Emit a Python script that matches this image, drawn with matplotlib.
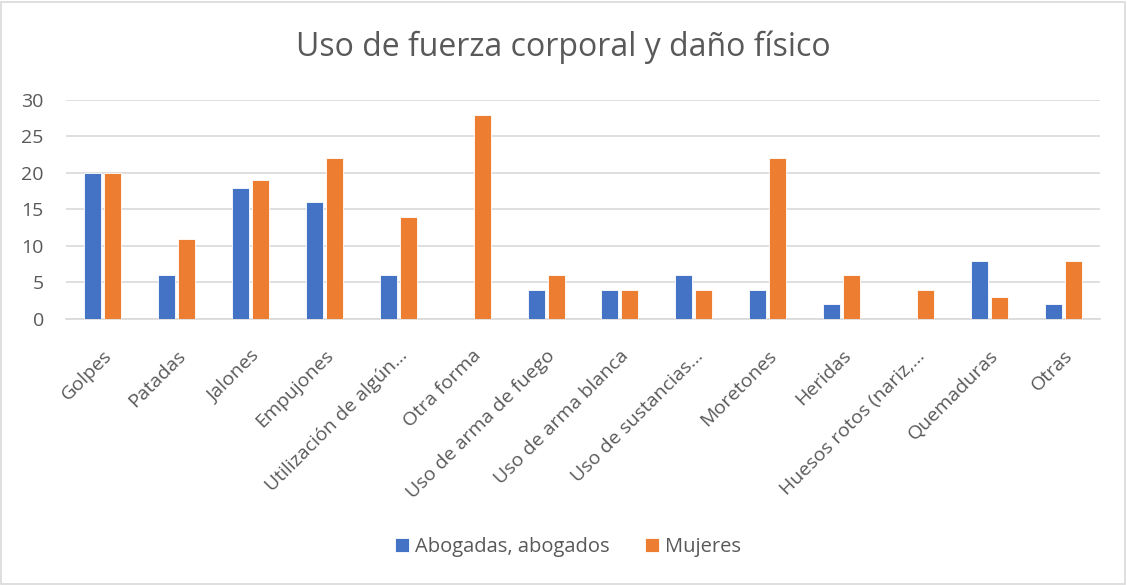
import matplotlib
matplotlib.use("Agg")
import matplotlib.pyplot as plt
import numpy as np
from matplotlib.patches import Rectangle

categories = ["Golpes", "Patadas", "Jalones", "Empujones", "Utilización de algún...",
              "Otra forma", "Uso de arma de fuego", "Uso de arma blanca",
              "Uso de sustancias...", "Moretones", "Heridas", "Huesos rotos (nariz,...",
              "Quemaduras", "Otras"]
abogados = [20, 6, 18, 16, 6, 0, 4, 4, 6, 4, 2, 0, 8, 2]
mujeres = [20, 11, 19, 22, 14, 28, 6, 4, 4, 22, 6, 4, 3, 8]
series_names = ["Abogadas, abogados", "Mujeres"]
yticks = [0, 5, 10, 15, 20, 25, 30]

plt.rcParams['font.family'] = ['Open Sans', 'DejaVu Sans']
txt = '#595959'

fig = plt.figure(figsize=(11.27, 5.85), dpi=100)
fig.patches.append(Rectangle((0.001, 0.002), 0.997, 0.995, transform=fig.transFigure,
                             fill=False, edgecolor='#D9D9D9', linewidth=1.2))
ax = fig.add_axes([66/1127, 1-319/585, (1100-66)/1127, (319-100)/585])

x = np.arange(len(categories))
w = 0.23
gap = 0.02
ax.bar(x - w/2 - gap, abogados, w, color='#4472C4', edgecolor='white', linewidth=0.6,
       label=series_names[0], zorder=3)
ax.bar(x + w/2 + gap, mujeres, w, color='#ED7D31', edgecolor='white', linewidth=0.6,
       label=series_names[1], zorder=3)

ax.set_xlim(-0.5, len(categories) - 0.5)
ax.set_ylim(0, 30)
ax.set_yticks(yticks)
ax.yaxis.grid(True, color='#D9D9D9', linewidth=1.2, zorder=0)
ax.set_axisbelow(True)
for s in ['top', 'right', 'left']:
    ax.spines[s].set_visible(False)
ax.spines['bottom'].set_color('#D9D9D9')
ax.spines['bottom'].set_linewidth(1.2)
ax.tick_params(axis='both', length=0, colors=txt, labelsize=14)
ax.tick_params(axis='y', pad=16)
ax.set_xticks(x)
ax.set_xticklabels(categories, rotation=45, ha='right', va='top', rotation_mode='anchor')
ax.tick_params(axis='x', pad=20)

fig.text(0.5, 1-47/585, "Uso de fuerza corporal y daño físico", ha='center', va='center',
         fontsize=23, color=txt)

fig.legend(loc='center', bbox_to_anchor=(568/1127, 1-547/585), ncol=2, frameon=False,
           fontsize=14.5, labelcolor=txt, handlelength=0.65, handleheight=0.65,
           handletextpad=0.3, columnspacing=1.8)

fig.savefig("out.png", dpi=100)
